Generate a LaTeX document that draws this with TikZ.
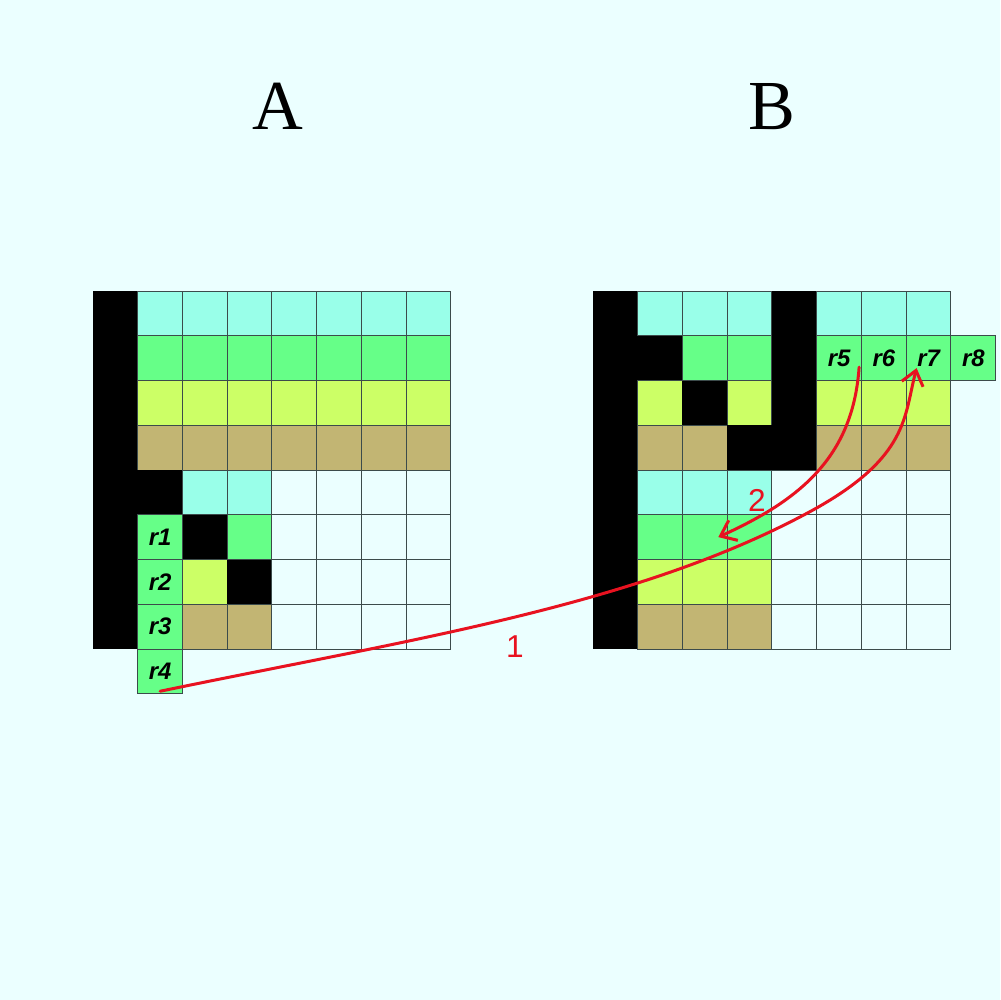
\documentclass[tikz,border=0pt]{standalone}
\usepackage{fontspec}
\setmainfont{Liberation Serif}
\setsansfont{Liberation Sans}
\usetikzlibrary{arrows.meta}

\definecolor{bgcol}{RGB}{235,255,255}
\definecolor{cellcyan}{RGB}{153,255,233}
\definecolor{cellgreen}{RGB}{102,255,136}
\definecolor{cellyellow}{RGB}{204,255,102}
\definecolor{cellkhaki}{RGB}{194,181,115}
\definecolor{gridcol}{RGB}{60,75,75}
\definecolor{penred}{RGB}{232,18,32}

\tikzset{
  cellK/.style={fill=black},
  cellC/.style={fill=cellcyan,draw=gridcol},
  cellG/.style={fill=cellgreen,draw=gridcol},
  cellY/.style={fill=cellyellow,draw=gridcol},
  cellH/.style={fill=cellkhaki,draw=gridcol},
  cellW/.style={draw=gridcol},
  rcell/.style={shape=rectangle,draw=gridcol,fill=cellgreen,minimum size=4.475mm,
    inner sep=0pt,font=\sffamily\bfseries\itshape\fontsize{6.8}{7}\selectfont},
  title/.style={anchor=base,font=\fontsize{20}{24}\selectfont},
  penline/.style={draw=penred,line width=0.3mm,line cap=round,
    -{Straight Barb[length=1.4mm,width=2.2mm,line width=0.3mm]}},
  penlabel/.style={text=penred,font=\sffamily\fontsize{9}{10}\selectfont}
}

\begin{document}
\begin{tikzpicture}[x=0.1mm,y=-0.1mm,line width=0.1mm]
  \fill[bgcol] (0,0) rectangle (1000,1000);

  \node[title] (ta) at (278,129) {A};
  \node[title] (tb) at (772,129) {B};

  % grid A
  \begin{scope}[xshift=9.3mm,yshift=-29.1mm,x=4.475mm,y=-4.475mm]
    \foreach \r/\row in {0/{K,C,C,C,C,C,C,C},1/{K,G,G,G,G,G,G,G},
                         2/{K,Y,Y,Y,Y,Y,Y,Y},3/{K,H,H,H,H,H,H,H},
                         4/{K,K,C,C,W,W,W,W},5/{K,G,K,G,W,W,W,W},
                         6/{K,G,Y,K,W,W,W,W},7/{K,G,H,H,W,W,W,W}}
      \foreach \k [count=\c from 0] in \row
        \path[cell\k] (\c,\r) rectangle +(1,1);
    \node[rcell] (r1) at (1.5,5.5) {r1};
    \node[rcell] (r2) at (1.5,6.5) {r2};
    \node[rcell] (r3) at (1.5,7.5) {r3};
    \node[rcell] (r4) at (1.5,8.5) {r4};
  \end{scope}

  % grid B
  \begin{scope}[xshift=59.3mm,yshift=-29.1mm,x=4.475mm,y=-4.475mm]
    \foreach \r/\row in {0/{K,C,C,C,K,C,C,C},1/{K,K,G,G,K,G,G,G},
                         2/{K,Y,K,Y,K,Y,Y,Y},3/{K,H,H,K,K,H,H,H},
                         4/{K,C,C,C,W,W,W,W},5/{K,G,G,G,W,W,W,W},
                         6/{K,Y,Y,Y,W,W,W,W},7/{K,H,H,H,W,W,W,W}}
      \foreach \k [count=\c from 0] in \row
        \path[cell\k] (\c,\r) rectangle +(1,1);
    \foreach \i [count=\c from 5] in {5,6,7,8}
      \node[rcell] (r\i) at (\c+0.5,1.5) {r\i};
    \coordinate (t2) at (2.8,5.5);
  \end{scope}

  % moves
  \coordinate (m1) at (813,510);
  \draw[penline] ([yshift=0.3mm]r4.south) .. controls (407,640) and (638,606)
    .. (m1) .. controls (909,457) and (904,416)
    .. ([xshift=-1.2mm,yshift=-1mm]r7.center);
  \node[penlabel] (l1) at (515,647) {1};

  \draw[penline] ([xshift=2mm,yshift=-0.9mm]r5.center) .. controls (853,457) and (800,500)
    .. (t2);
  \node[penlabel] (l2) at (757,500) {2};
\end{tikzpicture}
\end{document}
